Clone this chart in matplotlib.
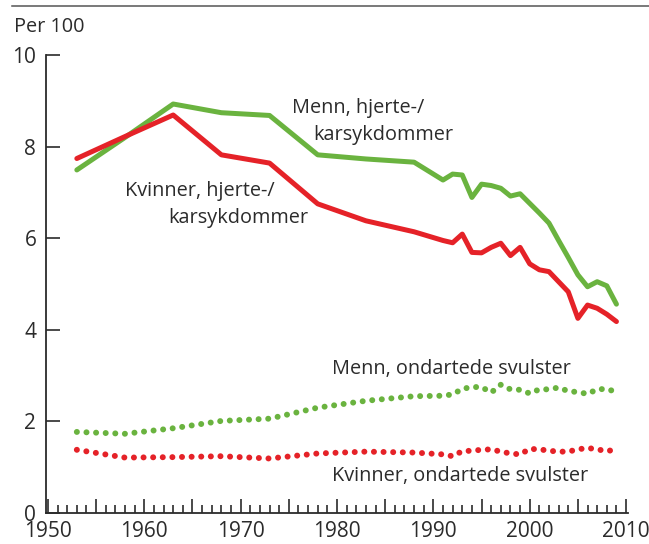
import matplotlib
matplotlib.use("Agg")
import matplotlib.pyplot as plt
from matplotlib.ticker import MultipleLocator, FuncFormatter
from matplotlib.lines import Line2D

plt.rcParams['font.family'] = ['Open Sans', 'DejaVu Sans']

years = [1953, 1958, 1963, 1968, 1973, 1978, 1983, 1988,
         1991, 1992, 1993, 1994, 1995, 1996, 1997, 1998, 1999, 2000,
         2001, 2002, 2003, 2004, 2005, 2006, 2007, 2008, 2009]

# deaths per 100
menn_hjerte = [7.49, 8.20, 8.93, 8.74, 8.68, 7.82, 7.73, 7.66,
               7.27, 7.40, 7.38, 6.89, 7.18, 7.15, 7.09, 6.92, 6.97, 6.76,
               6.55, 6.33, 5.95, 5.58, 5.20, 4.94, 5.05, 4.96, 4.56]
kvinner_hjerte = [7.74, 8.22, 8.69, 7.82, 7.64, 6.75, 6.38, 6.14,
                  5.95, 5.90, 6.09, 5.69, 5.68, 5.80, 5.89, 5.62, 5.80, 5.44,
                  5.31, 5.27, 5.05, 4.83, 4.25, 4.54, 4.47, 4.34, 4.18]
menn_kreft = [1.77, 1.73, 1.85, 2.01, 2.06, 2.30, 2.45, 2.55,
              2.56, 2.59, 2.71, 2.75, 2.75, 2.63, 2.80, 2.70, 2.69, 2.61,
              2.70, 2.70, 2.74, 2.66, 2.64, 2.60, 2.70, 2.71, 2.64]
kvinner_kreft = [1.38, 1.21, 1.22, 1.24, 1.19, 1.30, 1.34, 1.32,
                 1.28, 1.24, 1.35, 1.36, 1.38, 1.39, 1.34, 1.30, 1.28, 1.40,
                 1.39, 1.36, 1.34, 1.34, 1.39, 1.42, 1.39, 1.35, 1.39]

green = '#6ab33f'
red = '#e52228'
txt = '#2b2b2b'
fs = 14.3

fig = plt.figure(figsize=(6.49, 5.44), dpi=100)
ax = fig.add_axes([46 / 649, 31 / 544, 582 / 649, 458 / 544])

ax.plot(years, menn_hjerte, color=green, lw=3.6, solid_capstyle='round', solid_joinstyle='round')
ax.plot(years, kvinner_hjerte, color=red, lw=3.6, solid_capstyle='round', solid_joinstyle='round')
# dotted lines: round dots roughly one year apart
ax.plot(years, menn_kreft, color=green, lw=4.3, linestyle=(0, (0.01, 1.6)),
        dash_capstyle='round')
ax.plot(years, kvinner_kreft, color=red, lw=4.3, linestyle=(0, (0.01, 1.6)),
        dash_capstyle='round')

ax.set_xlim(1949.8, 2010.2)
ax.set_ylim(0, 10)

for s in ['top', 'right']:
    ax.spines[s].set_visible(False)
for s in ['left', 'bottom']:
    ax.spines[s].set_color(txt)
    ax.spines[s].set_linewidth(1.3)

ax.xaxis.set_major_locator(MultipleLocator(5))
ax.xaxis.set_minor_locator(MultipleLocator(1))
ax.xaxis.set_major_formatter(FuncFormatter(lambda v, p: f"{int(round(v))}" if int(round(v)) % 10 == 0 else ""))
ax.yaxis.set_major_locator(MultipleLocator(2))
ax.tick_params(axis='x', which='major', direction='in', length=10, width=1.2,
               color=txt, labelsize=15, labelcolor=txt, pad=6)
ax.tick_params(axis='x', which='minor', direction='in', length=5.5, width=1.2, color=txt)
ax.tick_params(axis='y', direction='in', length=10, width=1.2,
               color=txt, labelsize=15, labelcolor=txt, pad=7)

fig.text(14 / 649, 1 - 27 / 544, "Per 100", fontsize=fs, color=txt, va='center', ha='left')
fig.add_artist(Line2D([12 / 649, 1], [1 - 6 / 544, 1 - 6 / 544], color='#555555', lw=1.1))

# curve labels, each line placed on its own like in the original
ax.text(0.4227, 0.8734, "Menn, hjerte-/", transform=ax.transAxes, fontsize=fs, color=txt,
        ha='left', va='baseline')
ax.text(0.4588, 0.8144, "karsykdommer", transform=ax.transAxes, fontsize=fs, color=txt,
        ha='left', va='baseline')
ax.text(0.1357, 0.6921, "Kvinner, hjerte-/", transform=ax.transAxes, fontsize=fs, color=txt,
        ha='left', va='baseline')
ax.text(0.2096, 0.6332, "karsykdommer", transform=ax.transAxes, fontsize=fs, color=txt,
        ha='left', va='baseline')
ax.text(1979.5, 3.15, "Menn, ondartede svulster", fontsize=fs, color=txt, ha='left', va='center')
ax.text(1979.5, 0.8, "Kvinner, ondartede svulster", fontsize=fs, color=txt, ha='left', va='center')

fig.savefig("out.png", dpi=100)
